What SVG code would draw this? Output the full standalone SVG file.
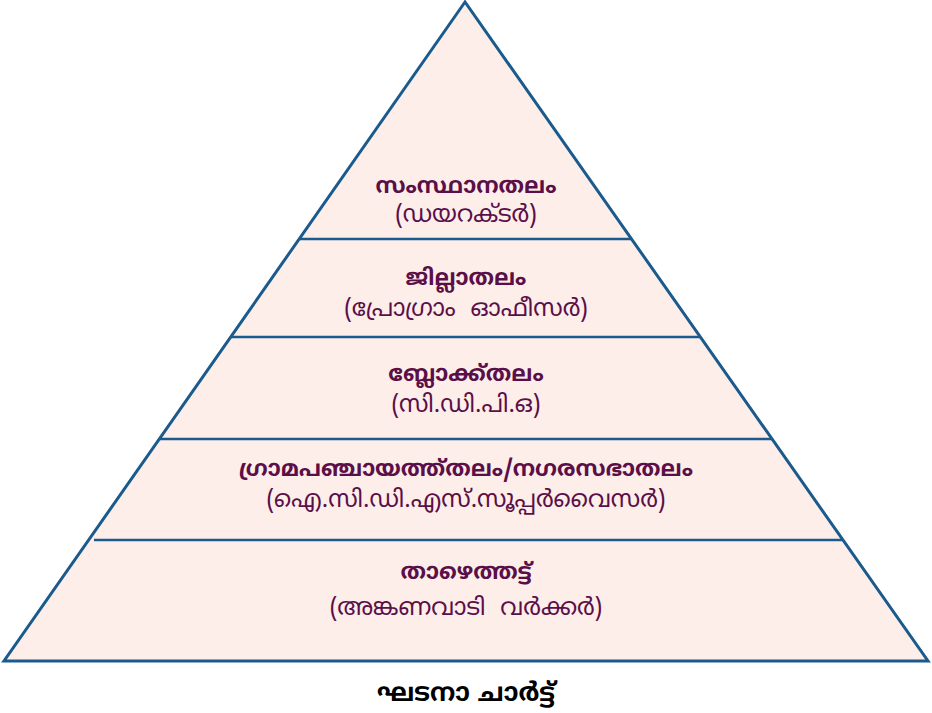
<svg xmlns="http://www.w3.org/2000/svg" width="932" height="713" viewBox="0 0 932 713">
<style>
.h{font-family:"Noto Sans Malayalam","Noto Sans","DejaVu Sans",sans-serif;font-size:22.5px;font-weight:bold;fill:#5b0f48;text-anchor:middle}
.s{font-family:"Noto Sans Malayalam","Noto Sans","DejaVu Sans",sans-serif;font-size:24px;fill:#5b0f48;text-anchor:middle;white-space:pre}
.t{font-family:"Noto Sans Malayalam","Noto Sans","DejaVu Sans",sans-serif;font-size:25.5px;font-weight:bold;fill:#000;text-anchor:middle}
.ln{stroke:#1a5a8c;stroke-width:2.5;fill:none}
</style>
<g id="pyramid">
<polygon points="465,2 4,661 928,661" fill="#fdeeea" stroke="#1a5a8c" stroke-width="3" stroke-linejoin="miter"/>
</g>
<g id="dividers">
<line class="ln" x1="299" y1="239" x2="632" y2="239"/>
<line class="ln" x1="231" y1="337" x2="700" y2="337"/>
<line class="ln" x1="160" y1="439" x2="772" y2="439"/>
<line class="ln" x1="94" y1="540" x2="843" y2="540"/>
</g>
<g id="level1">
<text class="h" x="466" y="193">സംസ്ഥാനതലം</text>
<text class="s" x="466" y="222">(ഡയറക്ടർ)</text>
</g>
<g id="level2">
<text class="h" x="466" y="285">ജില്ലാതലം</text>
<text class="s" x="466" y="316" xml:space="preserve">(പ്രോഗ്രാം  ഓഫീസർ)</text>
</g>
<g id="level3">
<text class="h" x="466" y="381">ബ്ലോക്ക്തലം</text>
<text class="s" x="466" y="412">(സി.ഡി.പി.ഒ)</text>
</g>
<g id="level4">
<text class="h" x="466" y="476">ഗ്രാമപഞ്ചായത്ത്തലം/നഗരസഭാതലം</text>
<text class="s" x="466" y="507">(ഐ.സി.ഡി.എസ്.സൂപ്പർവൈസർ)</text>
</g>
<g id="level5">
<text class="h" x="466" y="579">താഴെത്തട്ട്</text>
<text class="s" x="466" y="615" xml:space="preserve">(അങ്കണവാടി  വർക്കർ)</text>
</g>
<g id="title">
<text class="t" x="466" y="701">ഘടനാ ചാർട്ട്</text>
</g>
</svg>
